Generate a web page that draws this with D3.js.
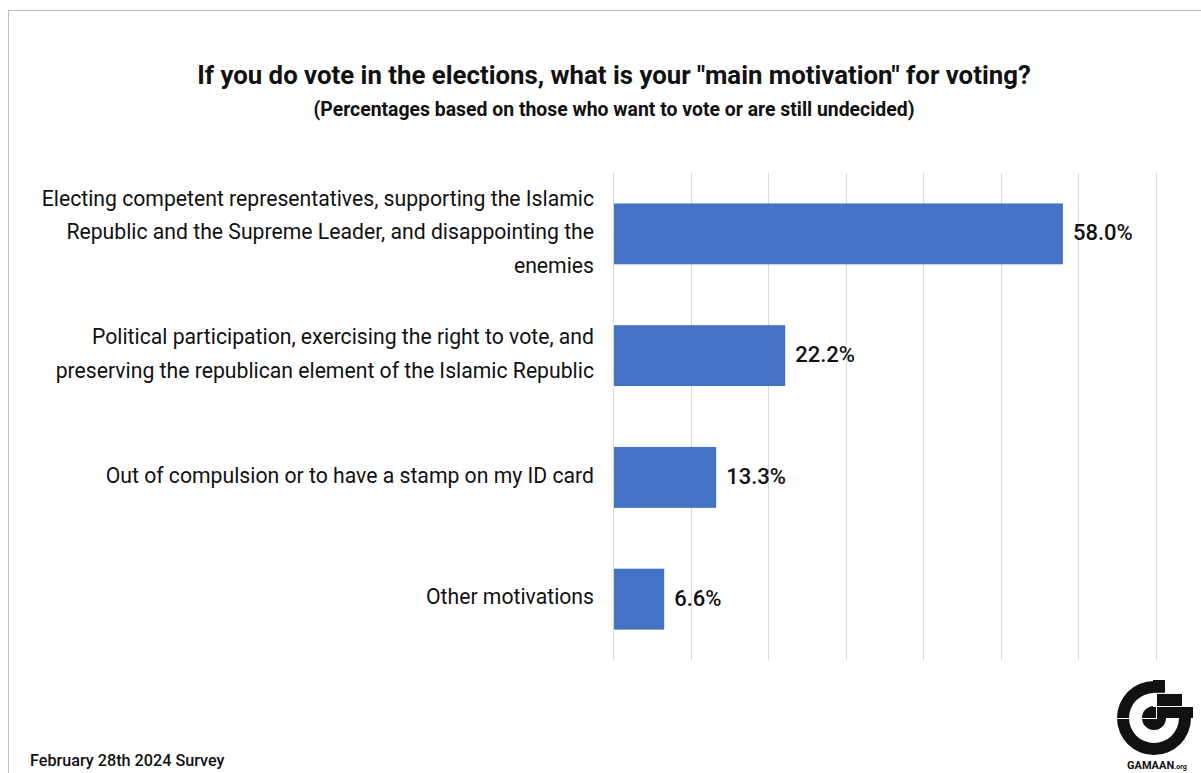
<!DOCTYPE html>
<html><head><meta charset="utf-8">
<script src="https://cdn.jsdelivr.net/npm/d3@7"></script>
<style>
html,body{margin:0;padding:0;background:#fff;}
svg{display:block;font-family:Roboto,"Noto Sans",sans-serif;}
</style></head>
<body>
<svg id="chart" width="1201" height="773"></svg>
<script>
const categories = [
  ["Electing competent representatives, supporting the Islamic", "Republic and the Supreme Leader, and disappointing the", "enemies"],
  ["Political participation, exercising the right to vote, and", "preserving the republican element of the Islamic Republic"],
  ["Out of compulsion or to have a stamp on my ID card"],
  ["Other motivations"]
];
const values = [58.0, 22.2, 13.3, 6.6];
const xTicks = [0, 10, 20, 30, 40, 50, 60, 70];
const title = 'If you do vote in the elections, what is your "main motivation" for voting?';
const subtitle = '(Percentages based on those who want to vote or are still undecided)';
const footer = 'February 28th 2024 Survey';

const svg = d3.select("#chart");
// frame
svg.append("rect").attr("x",8.5).attr("y",10.5).attr("width",1300).attr("height",900)
  .attr("fill","none").attr("stroke","#bfbfbf").attr("stroke-width",1);

const x = d3.scaleLinear().domain([0,70]).range([613,1156]);
const y = d3.scaleBand().domain(d3.range(values.length)).range([173,660]).paddingInner(0.5).paddingOuter(0.25);

// gridlines
svg.append("g").selectAll("line").data(xTicks).join("line")
  .attr("x1",d=>Math.round(x(d))+0.5).attr("x2",d=>Math.round(x(d))+0.5)
  .attr("y1",173).attr("y2",660).attr("stroke","#d9d9d9").attr("stroke-width",1);

// bars
svg.append("g").selectAll("rect").data(values).join("rect")
  .attr("x",x(0)+1).attr("y",(d,i)=>y(i)).attr("width",d=>x(d)-x(0)-1).attr("height",y.bandwidth())
  .attr("fill","#4472C4");

// value labels
svg.append("g").selectAll("text").data(values).join("text")
  .attr("x",d=>x(d)+10).attr("y",(d,i)=>y(i)+y.bandwidth()/2 - 1.5).attr("dy","0.36em")
  .attr("font-size",22).attr("font-weight",500).attr("fill","#111")
  .text(d=>d.toFixed(1)+"%");

// category labels
const lh = 33.5;
const lab = svg.append("g");
categories.forEach((lines,i)=>{
  const cy = y(i)+y.bandwidth()/2 - 2.5;
  const t = lab.append("text").attr("text-anchor","end").attr("font-size",21.2).attr("fill","#111");
  lines.forEach((ln,j)=>{
    t.append("tspan").attr("x",594).attr("y",cy + (j-(lines.length-1)/2)*lh).attr("dy","0.36em").text(ln);
  });
});

// titles
svg.append("text").attr("x",614).attr("y",84).attr("text-anchor","middle")
  .attr("font-size",25.8).attr("font-weight",700).attr("fill","#111").text(title);
svg.append("text").attr("x",614).attr("y",116).attr("text-anchor","middle")
  .attr("font-size",19.4).attr("font-weight",700).attr("fill","#111").text(subtitle);
svg.append("text").attr("x",30).attr("y",766)
  .attr("font-size",16.2).attr("font-weight",500).attr("fill","#111").text(footer);

// logo
const lg = svg.append("g");
const cx=1158, cyL=718;
const arc = d3.arc().innerRadius(25).outerRadius(37).startAngle(Math.PI/2).endAngle(2*Math.PI);
lg.append("path").attr("d",arc()).attr("transform",`translate(${cx-4},${cyL})`).attr("fill","#111");
lg.append("circle").attr("cx",cx-4).attr("cy",cyL).attr("r",12).attr("fill","#111");
lg.append("rect").attr("x",1153).attr("y",680).attr("width",12).attr("height",13).attr("fill","#111");
lg.append("rect").attr("x",1157).attr("y",693.8).attr("width",25).attr("height",12.4).attr("fill","#111");
lg.append("rect").attr("x",1157).attr("y",707).attr("width",36).attr("height",11).attr("fill","#111");
lg.append("line").attr("x1",1115).attr("x2",1157).attr("y1",718.5).attr("y2",718.5).attr("stroke","#fff").attr("stroke-width",1);
lg.append("line").attr("x1",1153).attr("x2",1200).attr("y1",706.5).attr("y2",706.5).attr("stroke","#fff").attr("stroke-width",1);
lg.append("line").attr("x1",1153).attr("x2",1200).attr("y1",693.3).attr("y2",693.3).attr("stroke","#fff").attr("stroke-width",1);
lg.append("line").attr("x1",1156.5).attr("x2",1156.5).attr("y1",694).attr("y2",718).attr("stroke","#fff").attr("stroke-width",1);
lg.append("text").attr("x",1127).attr("y",769).attr("font-size",11).attr("font-weight",700).attr("fill","#111")
  .text("GAMAAN").append("tspan").attr("font-size",7).text(".org");
</script>
</body></html>
